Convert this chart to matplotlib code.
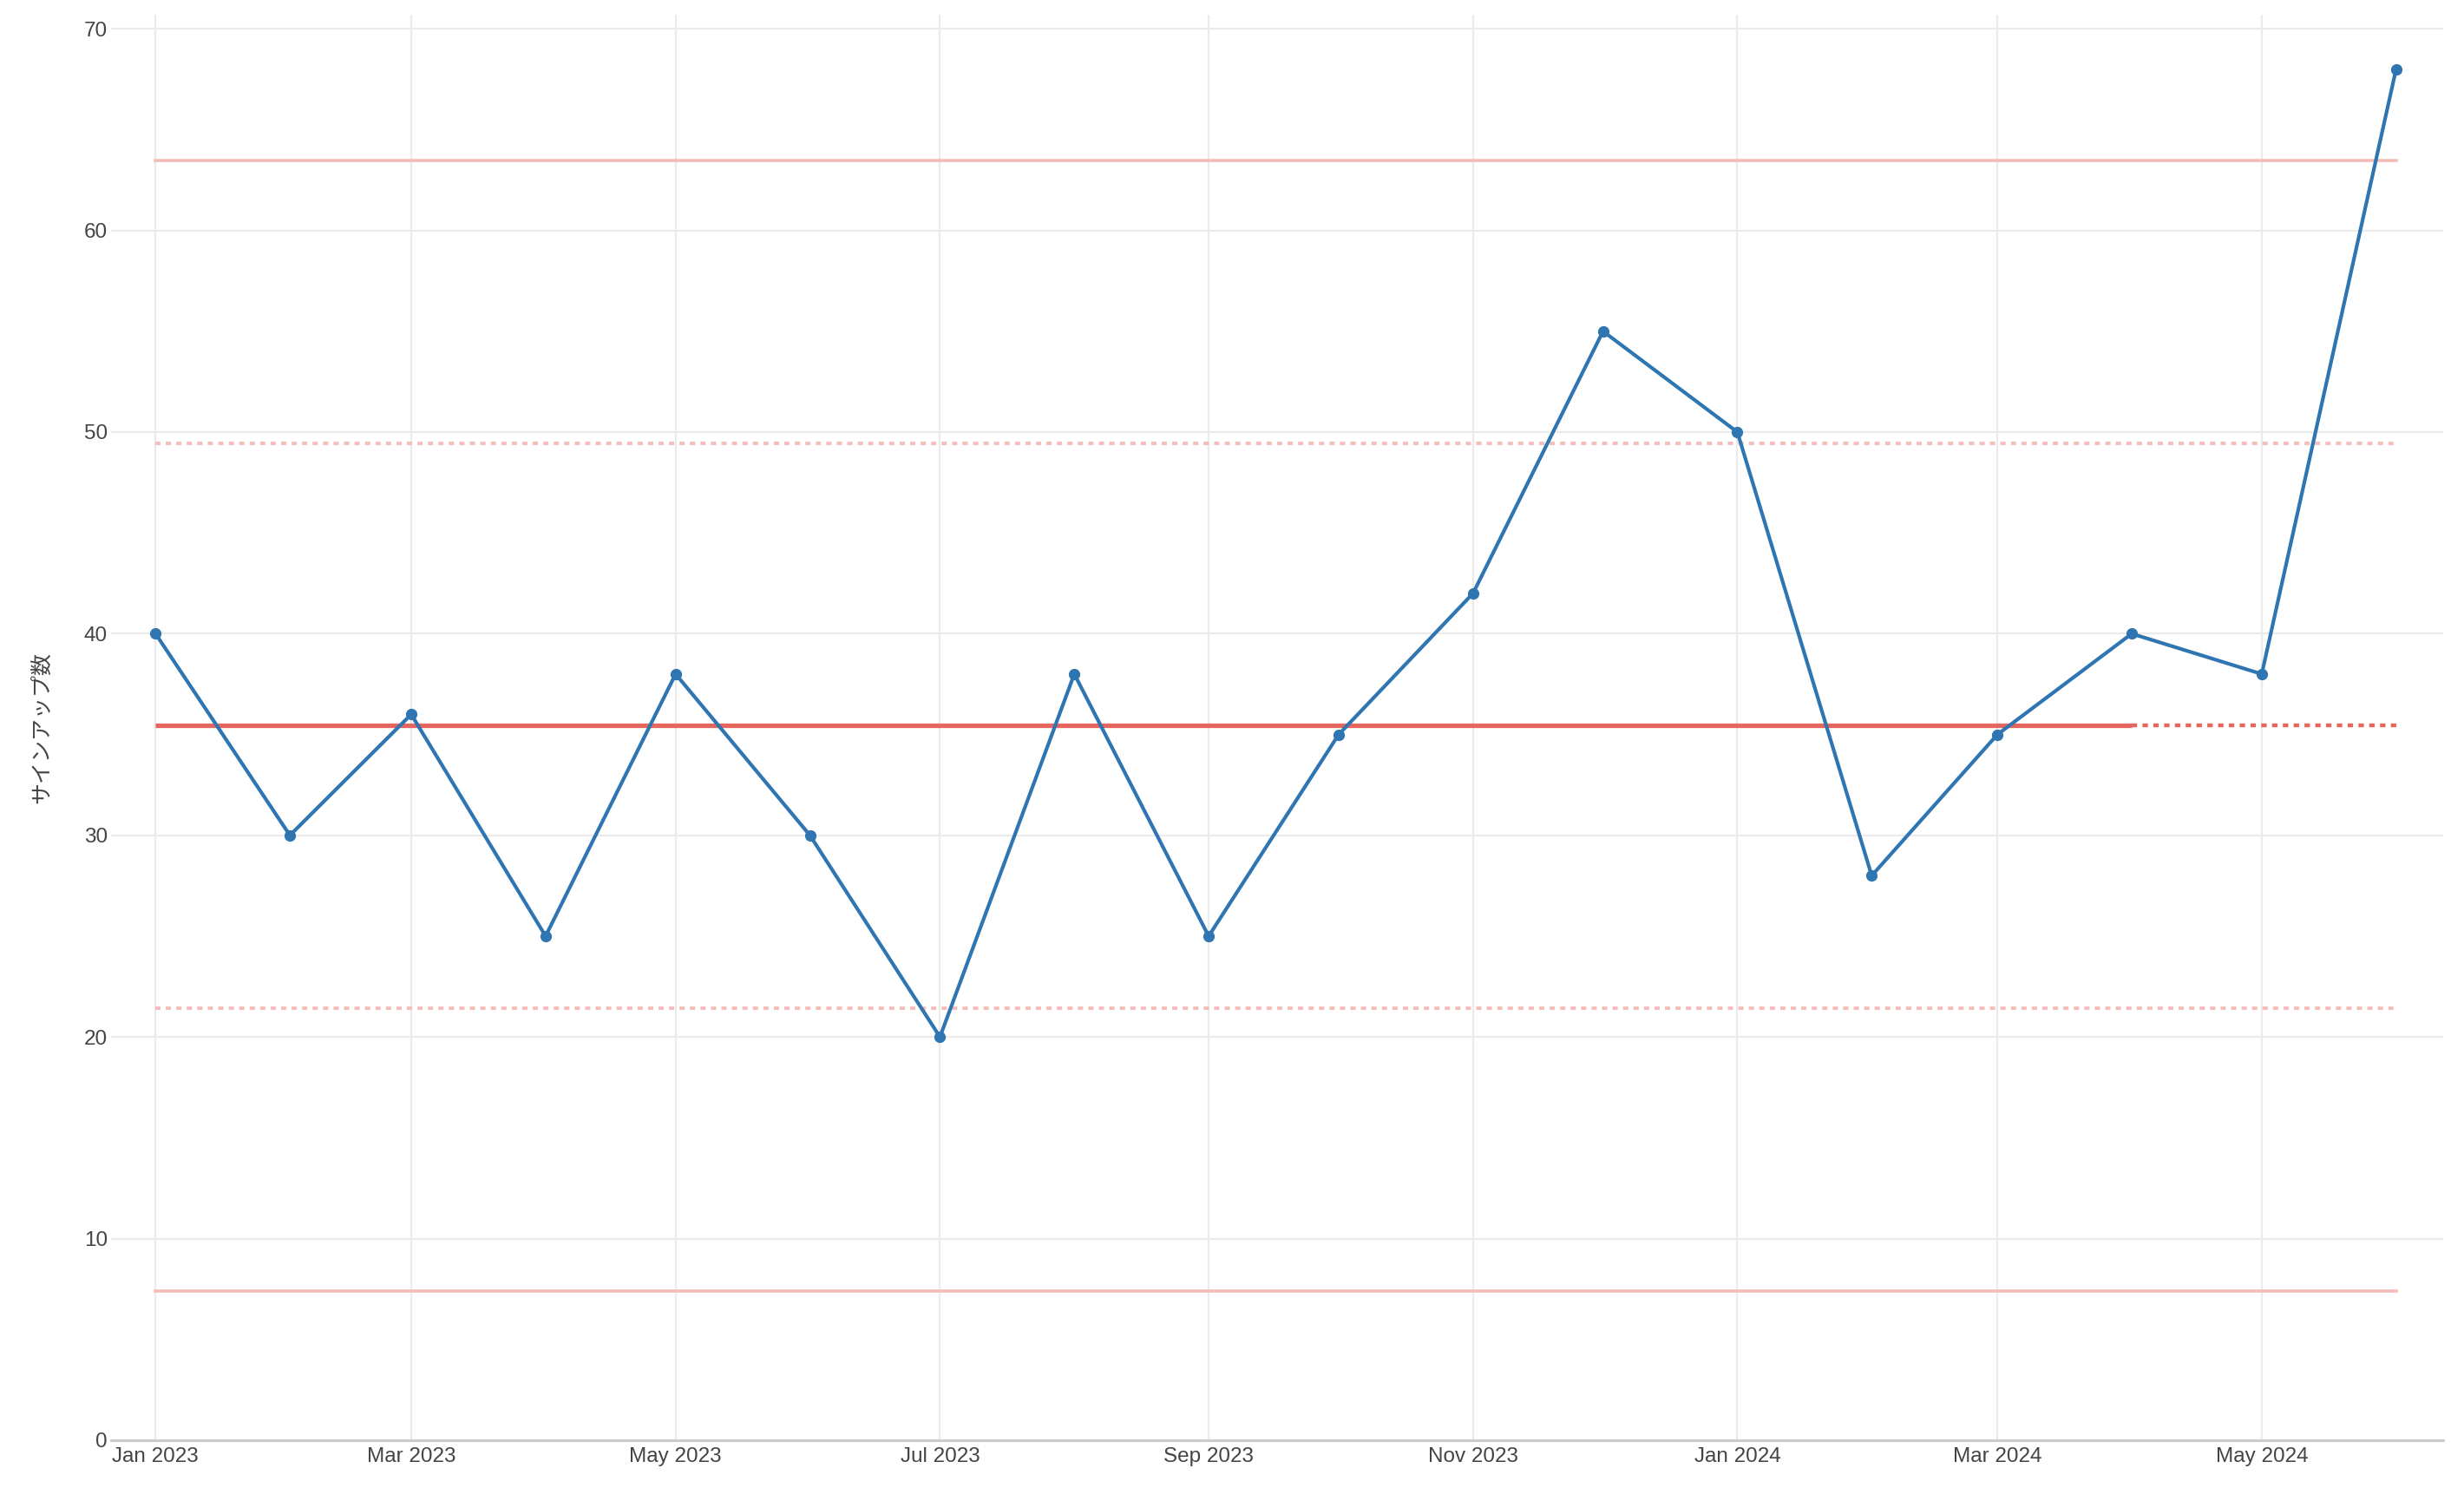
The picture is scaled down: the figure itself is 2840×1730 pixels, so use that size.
import matplotlib
matplotlib.use("Agg")
import matplotlib.pyplot as plt
import matplotlib.dates as mdates
import numpy as np
import pandas as pd

# Monthly signups (XmR chart)
months = pd.date_range("2023-01-01", "2024-06-01", freq="MS")
signups = [40, 30, 36, 25, 38, 30, 20, 38, 25, 35, 42, 55, 50, 28, 35, 40, 38, 68]
n_base = 16   # points used for the limits (Jan 2023 - Apr 2024)
tick_months = pd.date_range("2023-01-01", "2024-05-01", freq="2MS")
y_ticks = [0, 10, 20, 30, 40, 50, 60, 70]
y_label = "サインアップ数"

# Limits from the baseline period
base = np.array(signups[:n_base], dtype=float)
mean = base.mean()
mr = np.abs(np.diff(base)).mean()
ucl = mean + 2.66 * mr
lcl = mean - 2.66 * mr
upper_mid = mean + 1.33 * mr
lower_mid = mean - 1.33 * mr

fig = plt.figure(figsize=(28.4, 17.3), dpi=100)
ax = fig.add_axes([0.0451, 0.0405, 0.9464, 0.9497])

x0, x1 = months[0], months[-1]
xb = months[n_base - 1]

dots = (0, (1.5, 1.5))

# Limit lines
ax.plot([x0, x1], [ucl, ucl], color="#f4bcb8", lw=2.6, zorder=2)
ax.plot([x0, x1], [lcl, lcl], color="#f4bcb8", lw=2.6, zorder=2)
ax.plot([x0, x1], [upper_mid, upper_mid], color="#f4bfba", lw=2.9, linestyle=dots, zorder=2)
ax.plot([x0, x1], [lower_mid, lower_mid], color="#f4bfba", lw=2.9, linestyle=dots, zorder=2)
ax.plot([x0, xb], [mean, mean], color="#e5665c", lw=3.8, solid_capstyle="butt", zorder=3)
ax.plot([xb, x1], [mean, mean], color="#e5665c", lw=3.2, linestyle=(0, (1.4, 1.4)), zorder=3)

# Data
ax.plot(months, signups, color="#2e75b1", lw=3.0, marker="o", markersize=8.5, zorder=4)

ax.set_xlim(pd.Timestamp("2022-12-21 18:00"), pd.Timestamp("2024-06-11 20:00"))
ax.set_ylim(0, 70.7)
ax.set_yticks(y_ticks)
ax.set_xticks(tick_months)
ax.xaxis.set_major_formatter(mdates.DateFormatter("%b %Y"))

ax.grid(True, color="#ebebeb", lw=1.6)
ax.set_axisbelow(True)
for s in ["top", "right", "left"]:
    ax.spines[s].set_visible(False)
ax.spines["bottom"].set_color("#cccccc")
ax.spines["bottom"].set_linewidth(2.2)
ax.spines["bottom"].set_zorder(1)
ax.tick_params(length=0, labelsize=17.5, labelcolor="#444444", pad=6)
ax.tick_params(axis="y", pad=3)
for lab in ax.get_xticklabels() + ax.get_yticklabels():
    lab.set_family(["Liberation Sans", "DejaVu Sans"])

ax.set_ylabel(y_label, fontsize=18, color="#444444",
              family=["Noto Sans CJK JP", "DejaVu Sans"], labelpad=26)

fig.savefig("out.png", dpi=100, facecolor="white")
